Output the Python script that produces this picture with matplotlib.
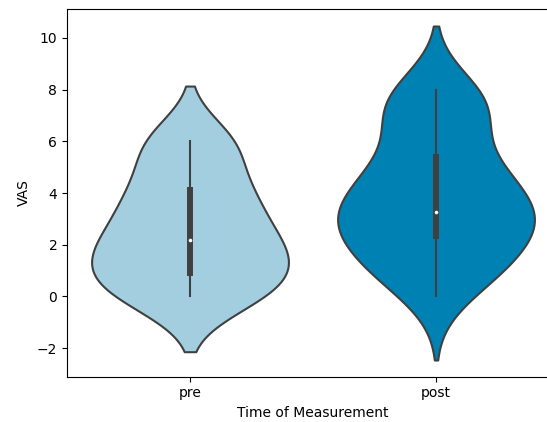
import matplotlib
matplotlib.use("Agg")
import matplotlib.pyplot as plt
import seaborn as sns
import pandas as pd

categories = ["pre", "post"]
pre_values = [0.00, 0.00, 0.00, 0.00, 0.39, 0.50, 0.86, 1.03, 1.42, 1.62, 1.62, 1.71, 2.07,
              2.33, 2.66, 2.67, 3.30, 3.55, 3.87, 4.18, 4.18, 4.85, 5.93, 5.99, 5.99, 6.00]
post_values = [0.00, 0.98, 1.00, 1.04, 1.19, 1.71, 2.32, 2.43, 2.72, 3.01, 3.04, 3.06, 3.08,
               3.42, 4.01, 4.34, 4.43, 4.63, 5.07, 5.51, 6.22, 7.42, 7.44, 7.45, 7.45, 8.00]
colors = ["#a3cee0", "#0081b3"]

df = pd.DataFrame({
    "Time of Measurement": ["pre"] * len(pre_values) + ["post"] * len(post_values),
    "VAS": pre_values + post_values,
})

fig = plt.figure(figsize=(5.47, 4.22), dpi=100)
ax = fig.add_axes([0.1225, 0.1073, 0.8995, 0.8706])
sns.violinplot(data=df, x="Time of Measurement", y="VAS", order=categories,
               hue="Time of Measurement", hue_order=categories,
               palette=colors, saturation=1, legend=False, ax=ax,
               linewidth=1.5, linecolor="#404040",
               inner_kws={"box_width": 4.3, "whis_width": 1.5, "marker": "o",
                          "markersize": 2.2, "markeredgewidth": 0.4})
fig.savefig("out.png", dpi=100)
